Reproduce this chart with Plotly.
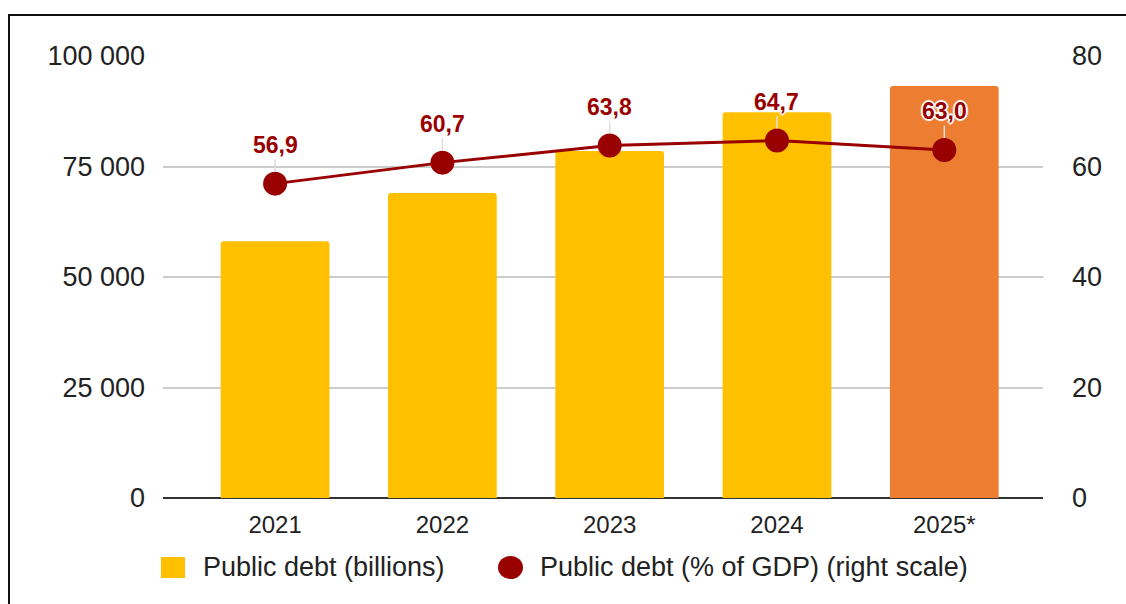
import plotly.graph_objects as go

# Chart data
years = ["2021", "2022", "2023", "2024", "2025*"]
debt_billions = [58100, 69000, 78500, 87300, 93200]
debt_pct_gdp = [56.9, 60.7, 63.8, 64.7, 63.0]
bar_colors = ["#FFC000", "#FFC000", "#FFC000", "#FFC000", "#ED7D31"]

left_ticks = [0, 25000, 50000, 75000, 100000]
right_ticks = [0, 20, 40, 60, 80]

legend_labels = ["Public debt (billions)", "Public debt (% of GDP) (right scale)"]

W, H = 1126, 604
M_L, M_R, M_T, M_B = 163, 83, 56, 106
PW, PH = W - M_L - M_R, H - M_T - M_B

FONT = "Liberation Sans, Arial, sans-serif"
DARK_RED = "#990000"


def px_x(x):
    return (x - M_L) / PW


def px_y(y):
    return (H - M_B - y) / PH


fig = go.Figure()

fig.add_trace(go.Bar(
    x=years, y=debt_billions, marker=dict(color=bar_colors, line=dict(width=0)),
    width=0.65, yaxis="y", showlegend=False, hoverinfo="skip",
))

fig.add_trace(go.Scatter(
    x=years, y=debt_pct_gdp, yaxis="y2", mode="lines+markers",
    line=dict(color=DARK_RED, width=3),
    marker=dict(color=DARK_RED, size=24, line=dict(width=0)),
    showlegend=False, hoverinfo="skip",
))

# Value labels with short leader lines above each point
# (x given as category index so numeric-looking names are not read as positions)
halo = "-1px -1px 0 #fff, 1px -1px 0 #fff, -1px 1px 0 #fff, 1px 1px 0 #fff, 0 2px 1px #fff, 0 -2px 1px #fff, 2px 0 1px #fff, -2px 0 1px #fff"
for i, v in enumerate(debt_pct_gdp):
    fig.add_annotation(
        x=i, y=v, xref="x", yref="y2",
        text=f"{v:.1f}".replace(".", ","),
        showarrow=True, arrowhead=0, arrowwidth=1.5, arrowcolor="#dddddd",
        ax=0, ay=-39, standoff=12,
        font=dict(family=FONT, size=23, color=DARK_RED, weight="bold", shadow=halo),
    )

# Legend drawn below the plot
fig.add_shape(type="rect", xref="paper", yref="paper",
              x0=px_x(161), x1=px_x(185), y0=px_y(578), y1=px_y(557),
              fillcolor="#FFC000", line=dict(width=0))
fig.add_annotation(xref="paper", yref="paper", x=px_x(201), y=px_y(567),
                   xanchor="left", yanchor="middle", showarrow=False,
                   text=legend_labels[0], font=dict(family=FONT, size=27, color="#222"))
fig.add_shape(type="circle", xref="paper", yref="paper",
              x0=px_x(498), x1=px_x(523), y0=px_y(579), y1=px_y(556),
              fillcolor=DARK_RED, line=dict(width=0))
fig.add_annotation(xref="paper", yref="paper", x=px_x(538), y=px_y(567),
                   xanchor="left", yanchor="middle", showarrow=False,
                   text=legend_labels[1], font=dict(family=FONT, size=27, color="#222"))

# Outer frame
fig.add_shape(type="rect", xref="paper", yref="paper",
              x0=px_x(9), x1=px_x(1140), y0=px_y(620), y1=px_y(15),
              line=dict(color="#111", width=2), fillcolor="rgba(0,0,0,0)")

fig.update_layout(
    width=W, height=H,
    margin=dict(l=M_L, r=M_R, t=M_T, b=M_B),
    paper_bgcolor="white", plot_bgcolor="white",
    separators=", ",
    barcornerradius=3,
    font=dict(family=FONT, color="#222"),
    xaxis=dict(
        type="category", range=[-0.67, 4.59], showgrid=False, showline=False,
        ticks="", tickfont=dict(size=24, color="#222"), ticklabelstandoff=10,
    ),
    yaxis=dict(
        range=[0, 100000], tickvals=left_ticks, tickformat=",d",
        showgrid=True, gridcolor="#cccccc", gridwidth=1.5,
        zeroline=True, zerolinecolor="#333", zerolinewidth=1.5,
        showline=False, ticks="", tickfont=dict(size=27, color="#222"),
        ticklabelstandoff=17,
    ),
    yaxis2=dict(
        range=[0, 80], tickvals=right_ticks, overlaying="y", side="right",
        showgrid=False, zeroline=False, showline=False, ticks="",
        tickfont=dict(size=27, color="#222"), ticklabelstandoff=28,
    ),
)

fig.write_html("out.html")
